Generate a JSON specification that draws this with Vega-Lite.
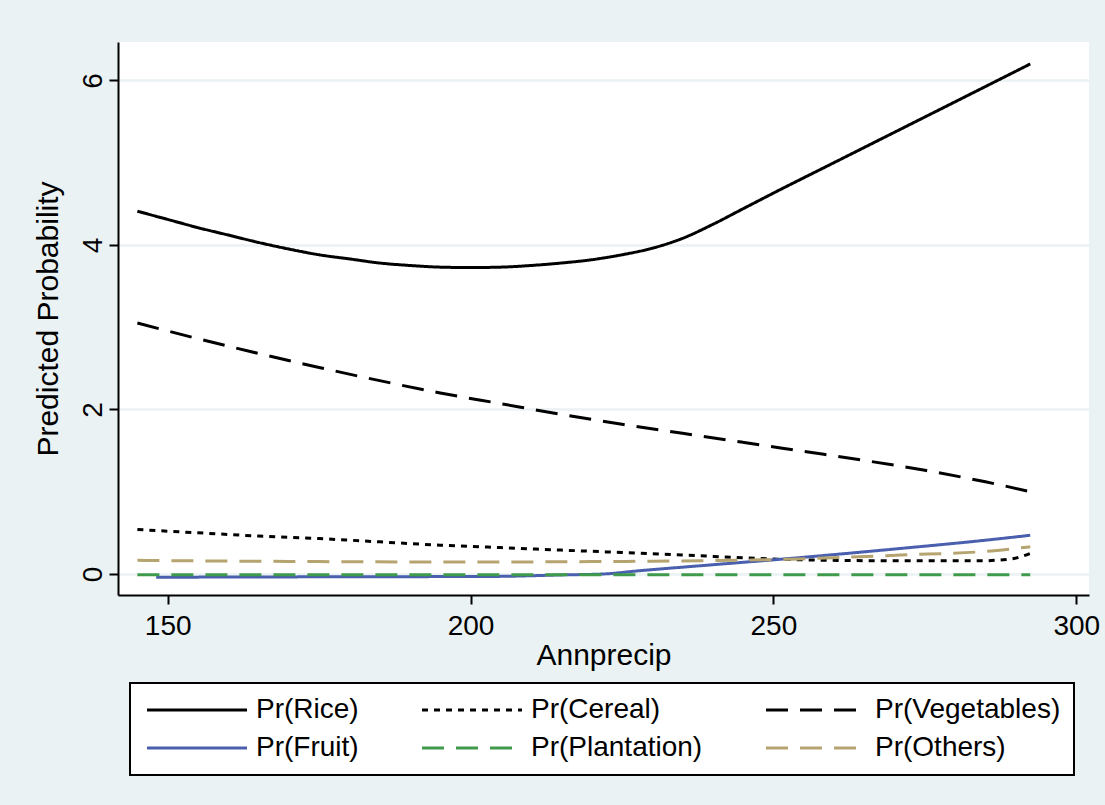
{
  "$schema": "https://vega.github.io/schema/vega-lite/v6.json",
  "autosize": {"type": "none"},
  "width": 971,
  "height": 553,
  "padding": {"left": 118, "top": 42, "right": 16, "bottom": 210},
  "background": "#EAF2F3",
  "data": {
    "values": [
      {"series": "Pr(Rice)", "x": 145, "y": 4.41},
      {"series": "Pr(Rice)", "x": 150, "y": 4.31},
      {"series": "Pr(Rice)", "x": 155, "y": 4.21},
      {"series": "Pr(Rice)", "x": 160, "y": 4.12},
      {"series": "Pr(Rice)", "x": 165, "y": 4.03},
      {"series": "Pr(Rice)", "x": 170, "y": 3.95},
      {"series": "Pr(Rice)", "x": 175, "y": 3.88},
      {"series": "Pr(Rice)", "x": 180, "y": 3.83},
      {"series": "Pr(Rice)", "x": 185, "y": 3.78},
      {"series": "Pr(Rice)", "x": 190, "y": 3.75},
      {"series": "Pr(Rice)", "x": 195, "y": 3.73},
      {"series": "Pr(Rice)", "x": 200, "y": 3.725},
      {"series": "Pr(Rice)", "x": 205, "y": 3.73},
      {"series": "Pr(Rice)", "x": 210, "y": 3.75},
      {"series": "Pr(Rice)", "x": 215, "y": 3.78},
      {"series": "Pr(Rice)", "x": 220, "y": 3.82},
      {"series": "Pr(Rice)", "x": 225, "y": 3.88},
      {"series": "Pr(Rice)", "x": 230, "y": 3.96},
      {"series": "Pr(Rice)", "x": 235, "y": 4.08},
      {"series": "Pr(Rice)", "x": 240, "y": 4.25},
      {"series": "Pr(Rice)", "x": 245, "y": 4.44},
      {"series": "Pr(Rice)", "x": 250, "y": 4.63},
      {"series": "Pr(Rice)", "x": 260, "y": 5.0},
      {"series": "Pr(Rice)", "x": 270, "y": 5.37},
      {"series": "Pr(Rice)", "x": 280, "y": 5.74},
      {"series": "Pr(Rice)", "x": 292.4, "y": 6.2},

      {"series": "Pr(Cereal)", "x": 145, "y": 0.54},
      {"series": "Pr(Cereal)", "x": 155, "y": 0.5},
      {"series": "Pr(Cereal)", "x": 165, "y": 0.46},
      {"series": "Pr(Cereal)", "x": 175, "y": 0.43},
      {"series": "Pr(Cereal)", "x": 185, "y": 0.39},
      {"series": "Pr(Cereal)", "x": 195, "y": 0.35},
      {"series": "Pr(Cereal)", "x": 205, "y": 0.32},
      {"series": "Pr(Cereal)", "x": 215, "y": 0.29},
      {"series": "Pr(Cereal)", "x": 225, "y": 0.26},
      {"series": "Pr(Cereal)", "x": 238, "y": 0.22},
      {"series": "Pr(Cereal)", "x": 253, "y": 0.175},
      {"series": "Pr(Cereal)", "x": 270, "y": 0.16},
      {"series": "Pr(Cereal)", "x": 284, "y": 0.16},
      {"series": "Pr(Cereal)", "x": 289, "y": 0.18},
      {"series": "Pr(Cereal)", "x": 292.4, "y": 0.25},

      {"series": "Pr(Vegetables)", "x": 145, "y": 3.05},
      {"series": "Pr(Vegetables)", "x": 155, "y": 2.86},
      {"series": "Pr(Vegetables)", "x": 165, "y": 2.68},
      {"series": "Pr(Vegetables)", "x": 175, "y": 2.51},
      {"series": "Pr(Vegetables)", "x": 185, "y": 2.35},
      {"series": "Pr(Vegetables)", "x": 195, "y": 2.2},
      {"series": "Pr(Vegetables)", "x": 205, "y": 2.07},
      {"series": "Pr(Vegetables)", "x": 215, "y": 1.94},
      {"series": "Pr(Vegetables)", "x": 225, "y": 1.82},
      {"series": "Pr(Vegetables)", "x": 235, "y": 1.71},
      {"series": "Pr(Vegetables)", "x": 245, "y": 1.6},
      {"series": "Pr(Vegetables)", "x": 255, "y": 1.49},
      {"series": "Pr(Vegetables)", "x": 265, "y": 1.38},
      {"series": "Pr(Vegetables)", "x": 275, "y": 1.26},
      {"series": "Pr(Vegetables)", "x": 285, "y": 1.12},
      {"series": "Pr(Vegetables)", "x": 292.4, "y": 1.0},

      {"series": "Pr(Fruit)", "x": 148.1, "y": -0.04},
      {"series": "Pr(Fruit)", "x": 175, "y": -0.035},
      {"series": "Pr(Fruit)", "x": 204, "y": -0.03},
      {"series": "Pr(Fruit)", "x": 215, "y": -0.012},
      {"series": "Pr(Fruit)", "x": 222, "y": 0.0},
      {"series": "Pr(Fruit)", "x": 228, "y": 0.04},
      {"series": "Pr(Fruit)", "x": 238, "y": 0.1},
      {"series": "Pr(Fruit)", "x": 253, "y": 0.19},
      {"series": "Pr(Fruit)", "x": 271, "y": 0.31},
      {"series": "Pr(Fruit)", "x": 285, "y": 0.41},
      {"series": "Pr(Fruit)", "x": 292.4, "y": 0.47},

      {"series": "Pr(Plantation)", "x": 145, "y": -0.01},
      {"series": "Pr(Plantation)", "x": 200, "y": -0.01},
      {"series": "Pr(Plantation)", "x": 250, "y": -0.01},
      {"series": "Pr(Plantation)", "x": 292.4, "y": -0.01},

      {"series": "Pr(Others)", "x": 145, "y": 0.165},
      {"series": "Pr(Others)", "x": 170, "y": 0.152},
      {"series": "Pr(Others)", "x": 200, "y": 0.145},
      {"series": "Pr(Others)", "x": 220, "y": 0.15},
      {"series": "Pr(Others)", "x": 238, "y": 0.16},
      {"series": "Pr(Others)", "x": 253, "y": 0.18},
      {"series": "Pr(Others)", "x": 271, "y": 0.23},
      {"series": "Pr(Others)", "x": 286, "y": 0.28},
      {"series": "Pr(Others)", "x": 292.4, "y": 0.33}
    ]
  },
  "mark": {"type": "line", "strokeWidth": 3, "interpolate": "monotone", "strokeCap": "butt"},
  "encoding": {
    "x": {
      "field": "x", "type": "quantitative",
      "scale": {"domain": [141.8, 302.1], "nice": false, "zero": false},
      "axis": {"title": "Annprecip", "values": [150, 200, 250, 300], "grid": false, "labelPadding": 8, "titlePadding": 0}
    },
    "y": {
      "field": "y", "type": "quantitative",
      "scale": {"domain": [-0.256, 6.467], "nice": false, "zero": false},
      "axis": {"title": "Predicted Probability", "values": [0, 2, 4, 6], "grid": true, "labelAngle": 270, "labelPadding": 2, "titlePadding": 16}
    },
    "color": {
      "field": "series", "type": "nominal",
      "scale": {
        "domain": ["Pr(Rice)", "Pr(Cereal)", "Pr(Vegetables)", "Pr(Fruit)", "Pr(Plantation)", "Pr(Others)"],
        "range": ["#000000", "#000000", "#000000", "#4a5fad", "#3f9a4c", "#b5a46f"]
      },
      "legend": {"title": null}
    },
    "strokeDash": {
      "field": "series", "type": "nominal",
      "scale": {
        "domain": ["Pr(Rice)", "Pr(Cereal)", "Pr(Vegetables)", "Pr(Fruit)", "Pr(Plantation)", "Pr(Others)"],
        "range": [[1, 0], [6, 6], [22, 12], [1, 0], [22, 12], [22, 12]]
      },
      "legend": {"title": null}
    }
  },
  "config": {
    "font": "Liberation Sans",
    "view": {"fill": "white", "stroke": null},
    "axis": {
      "domainColor": "black", "domainWidth": 2,
      "tickColor": "black", "tickWidth": 2, "tickSize": 9,
      "labelFont": "Liberation Sans", "labelFontSize": 28, "labelColor": "black",
      "titleFont": "Liberation Sans", "titleFontSize": 30, "titleFontWeight": "normal", "titleColor": "black",
      "gridColor": "#EAF2F3", "gridWidth": 2.5
    },
    "legend": {
      "orient": "none", "legendX": 12, "legendY": 641,
      "direction": "horizontal", "columns": 3,
      "fillColor": "white", "strokeColor": "black", "strokeWidth": 2,
      "padding": 13, "columnPadding": 57, "rowPadding": 10,
      "symbolType": "M-2,0H18", "symbolSize": 100, "symbolStrokeWidth": 3,
      "labelFont": "Liberation Sans", "labelFontSize": 28, "labelColor": "black",
      "labelOffset": 85, "labelLimit": 400
    }
  }
}
